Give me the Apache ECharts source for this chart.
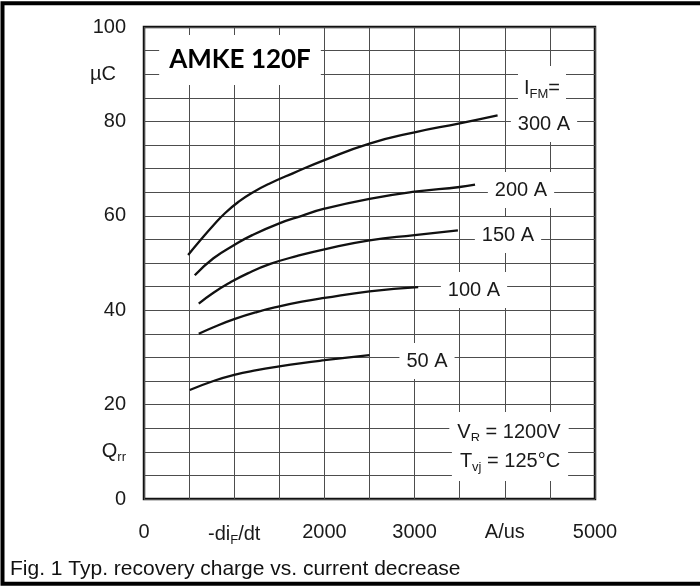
<!DOCTYPE html>
<html>
<head>
<meta charset="utf-8">
<title>AMKE 120F recovery charge</title>
<script src="https://cdn.jsdelivr.net/npm/echarts@6/dist/echarts.min.js"></script>
<style>
  html, body { margin: 0; padding: 0; background: #fff; }
  #main { width: 700px; height: 586px; }
</style>
</head>
<body>
<div id="main"></div>
<script>
// Qrr (uC) vs -diF/dt (A/us)
const q300 = [[489, 51.7], [620, 54.7], [770, 58.0], [900, 60.6], [1050, 63.0], [1200, 64.9], [1400, 66.9], [1650, 69.0], [2000, 71.8], [2500, 75.3], [3000, 77.7], [3500, 79.6], [3920, 81.3]];
const q200 = [[563, 47.4], [770, 51.0], [1000, 53.8], [1200, 55.9], [1500, 58.4], [1750, 60.0], [2000, 61.5], [2500, 63.6], [3000, 65.1], [3500, 66.1], [3670, 66.6]];
const q150 = [[607, 41.4], [770, 43.7], [950, 45.8], [1150, 47.8], [1400, 49.8], [1700, 51.5], [2000, 52.9], [2500, 54.8], [3000, 55.9], [3480, 56.9]];
const q100 = [[607, 35.0], [770, 36.4], [1000, 38.1], [1250, 39.6], [1500, 40.8], [1750, 41.8], [2000, 42.6], [2500, 44.0], [3040, 44.9]];
const q50 = [[507, 23.1], [770, 25.0], [1000, 26.3], [1250, 27.3], [1500, 28.1], [1750, 28.8], [2000, 29.4], [2500, 30.5]];

const seriesNames = ['300 A', '200 A', '150 A', '100 A', '50 A'];

// tick labels (value -> text), the rest of the 500 / 5 grid stays unlabelled
const xTickLabels = { 0: '0', 1000: '{n|-di}{s|F}{n|/dt}', 2000: '2000', 3000: '3000', 4000: 'A/us', 5000: '5000' };
const yTickLabels = { 0: '0', 10: '{n|Q}{s|rr}', 20: '20', 40: '40', 60: '60', 80: '80', 90: '{u|\u00b5C}', 100: '100' };

const FONT = '"Liberation Sans", Arial, Helvetica, sans-serif';
const TXT = '#1a1a1a';

const chart = echarts.init(document.getElementById('main'));

const subRich = {
  n: { fontSize: 20, fontFamily: FONT, color: TXT, lineHeight: 24 },
  s: { fontSize: 13, fontFamily: FONT, color: TXT, lineHeight: 24, padding: [12, 0, 0, 0] },
  u: { fontSize: 20, fontFamily: FONT, color: TXT, padding: [0, 10, 0, 0] }
};

function note(text, x, y, pad) {
  return {
    type: 'text',
    x: x, y: y,
    z: 10,
    style: {
      text: text,
      x: 0, y: 0,
      align: 'center',
      verticalAlign: 'middle',
      font: '20px ' + FONT,
      fill: TXT,
      backgroundColor: '#fff',
      padding: pad || [8, 7],
      rich: subRich
    }
  };
}

const option = {
  backgroundColor: '#fff',
  animation: false,
  grid: {
    left: 144, top: 27, right: 105, bottom: 87,
    show: true,
    borderColor: '#111',
    borderWidth: 2.5,
    backgroundColor: 'transparent'
  },
  xAxis: {
    type: 'value',
    min: 0, max: 5000, interval: 500,
    axisLine: { show: false },
    axisTick: { show: false },
    splitLine: { show: true, lineStyle: { color: '#4d4d4d', width: 1 } },
    axisLabel: {
      margin: 23,
      fontSize: 20, fontFamily: FONT, color: TXT,
      hideOverlap: false,
      showMinLabel: true, showMaxLabel: true,
      formatter: v => xTickLabels[v] || '',
      rich: subRich
    }
  },
  yAxis: {
    type: 'value',
    min: 0, max: 100, interval: 5,
    axisLine: { show: false },
    axisTick: { show: false },
    splitLine: { show: true, lineStyle: { color: '#4d4d4d', width: 1 } },
    axisLabel: {
      margin: 18,
      fontSize: 20, fontFamily: FONT, color: TXT,
      hideOverlap: false,
      showMinLabel: true, showMaxLabel: true,
      formatter: v => yTickLabels[v] || '',
      rich: subRich
    }
  },
  series: [q300, q200, q150, q100, q50].map((d, i) => ({
    name: seriesNames[i],
    type: 'line',
    data: d,
    smooth: 0.5,
    showSymbol: false,
    silent: true,
    z: 5,
    lineStyle: { color: '#111', width: 2.3 }
  })),
  graphic: [
    // outer figure frame (right edge is cut off in the original)
    {
      type: 'rect', z: 20, silent: true,
      shape: { x: 2.5, y: 3.3, width: 760, height: 580.5 },
      style: { fill: 'none', stroke: '#000', lineWidth: 4 }
    },
    {
      type: 'text', x: 240, y: 60, z: 10,
      style: {
        text: 'AMKE 120F', x: 0, y: 0, align: 'center', verticalAlign: 'middle',
        font: 'bold 26px Lato, "Open Sans", sans-serif', fill: '#000',
        backgroundColor: '#fff', padding: [12, 10]
      }
    },
    note('{n|I}{s|FM}{n|=}', 542, 88, [10, 6]),
    note('300 A', 544, 124),
    note('200 A', 521, 190),
    note('150 A', 508, 235),
    note('100 A', 474, 290),
    note('50 A', 427, 361),
    note('{n|V}{s|R}{n| = 1200V}', 509, 432, [8, 8]),
    note('{n|T}{s|vj}{n| = 125\u00b0C}', 510, 461, [8, 8]),
    {
      type: 'text', x: 10, y: 569, z: 10,
      style: {
        text: 'Fig. 1 Typ. recovery charge vs. current decrease', x: 0, y: 0,
        align: 'left', verticalAlign: 'middle',
        font: '21px ' + FONT, fill: '#111'
      }
    }
  ]
};

chart.setOption(option);
</script>
</body>
</html>
